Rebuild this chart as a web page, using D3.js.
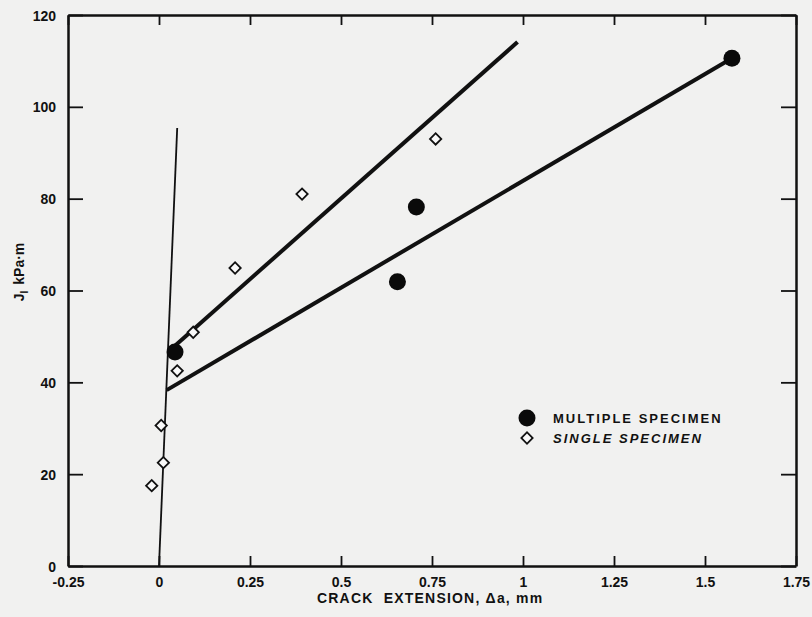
<!DOCTYPE html>
<html>
<head>
<meta charset="utf-8">
<script src="https://cdn.jsdelivr.net/npm/d3@7"></script>
<style>
  body { margin: 0; background: #f1f1f0; }
  svg { display: block; }
  svg text { font-family: "Liberation Sans", Arial, sans-serif; font-weight: bold; }
</style>
</head>
<body>
<svg id="chart"></svg>
<script>
// crack extension (mm) and J (kPa·m)
const multipleX = [0.044, 0.707, 0.655, 1.574];
const multipleY = [46.6, 78.2, 61.9, 110.6];

const singleX = [-0.020, 0.012, 0.006, 0.050, 0.094, 0.209, 0.393, 0.760];
const singleY = [17.5, 22.5, 30.6, 42.5, 50.9, 64.9, 81.0, 93.0];

// straight lines drawn on the plot, as [x, y] end points
const bluntingLine = [[0.0, 0], [0.05, 95.4]];
const singleFit = [[0.030, 47.0], [0.985, 114.1]];
const multipleFit = [[0.021, 38.3], [1.574, 110.6]];

const xTicks = [-0.25, 0, 0.25, 0.5, 0.75, 1, 1.25, 1.5, 1.75];
const xTickLabels = ["-0.25", "0", "0.25", "0.5", "0.75", "1", "1.25", "1.5", "1.75"];
const yTicks = [0, 20, 40, 60, 80, 100, 120];

const width = 812, height = 617;
const margin = {top: 15, right: 16, bottom: 51, left: 68};

const svg = d3.select("#chart").attr("width", width).attr("height", height);

const x = d3.scaleLinear().domain([-0.25, 1.75]).range([margin.left, width - margin.right]);
const y = d3.scaleLinear().domain([0, 120]).range([height - margin.bottom, margin.top]);

// axes, ticks pointing inward on all four sides
svg.append("g")
    .attr("transform", `translate(0,${y(0)})`)
    .call(d3.axisBottom(x).tickValues(xTicks).tickSize(-10).tickSizeOuter(0).tickPadding(11)
        .tickFormat((d, i) => xTickLabels[i]));
svg.append("g")
    .attr("transform", `translate(0,${y(120)})`)
    .call(d3.axisTop(x).tickValues(xTicks).tickSize(-10).tickSizeOuter(0).tickFormat(""));
const left = svg.append("g")
    .attr("transform", `translate(${x(-0.25)},0)`)
    .call(d3.axisLeft(y).tickValues(yTicks).tickSize(-15).tickSizeOuter(0).tickPadding(12));
svg.append("g")
    .attr("transform", `translate(${x(1.75)},0)`)
    .call(d3.axisRight(y).tickValues(yTicks).tickSize(-15).tickSizeOuter(0).tickFormat(""));

svg.selectAll(".domain").attr("stroke", "#111").attr("stroke-width", 2.5);
svg.selectAll(".tick line").attr("stroke", "#111").attr("stroke-width", 1.8);
svg.selectAll(".tick text").attr("fill", "#111")
    .style("font-size", "14px").style("font-family", "'Liberation Sans', Arial, sans-serif")
    .style("font-weight", "bold");
left.selectAll(".tick text").attr("dy", "0.36em");

// lines
const line = d3.line().x(d => x(d[0])).y(d => y(d[1]));
svg.append("path").datum(bluntingLine).attr("d", line)
    .attr("fill", "none").attr("stroke", "#111").attr("stroke-width", 1.8);
svg.append("path").datum(singleFit).attr("d", line)
    .attr("fill", "none").attr("stroke", "#111").attr("stroke-width", 4);
svg.append("path").datum(multipleFit).attr("d", line)
    .attr("fill", "none").attr("stroke", "#111").attr("stroke-width", 4);

// markers
const diamond = d3.symbol().type(d3.symbolSquare).size(64);
svg.append("g").selectAll("path")
    .data(singleX.map((v, i) => [v, singleY[i]]))
    .join("path")
    .attr("d", diamond)
    .attr("transform", d => `translate(${x(d[0])},${y(d[1])}) rotate(45)`)
    .attr("fill", "#fafafa").attr("stroke", "#111").attr("stroke-width", 1.8);

svg.append("g").selectAll("circle")
    .data(multipleX.map((v, i) => [v, multipleY[i]]))
    .join("circle")
    .attr("cx", d => x(d[0])).attr("cy", d => y(d[1]))
    .attr("r", 8.5).attr("fill", "#0a0a0a");

// legend
const legend = svg.append("g").attr("transform", "translate(527,418)");
legend.append("circle").attr("r", 8.5).attr("fill", "#0a0a0a");
legend.append("path").attr("d", diamond).attr("transform", "translate(0,20) rotate(45)")
    .attr("fill", "#fafafa").attr("stroke", "#111").attr("stroke-width", 1.8);
legend.append("text").attr("x", 26).attr("y", 5)
    .style("font-size", "13px").style("letter-spacing", "2px").attr("fill", "#111")
    .text("MULTIPLE SPECIMEN");
legend.append("text").attr("x", 26).attr("y", 25)
    .style("font-size", "13px").style("letter-spacing", "2px").style("font-style", "italic")
    .attr("fill", "#111")
    .text("SINGLE SPECIMEN");

// axis titles
svg.append("text").attr("x", 317).attr("y", 603)
    .style("font-size", "14px").style("letter-spacing", "1.2px").attr("fill", "#111")
    .attr("xml:space", "preserve")
    .text("CRACK  EXTENSION, \u0394a, mm");

const yTitle = svg.append("text")
    .attr("transform", "translate(24,272) rotate(-90)")
    .attr("text-anchor", "middle")
    .style("font-size", "14px").attr("fill", "#111");
yTitle.append("tspan").text("J");
yTitle.append("tspan").attr("dy", 4).style("font-size", "10px").text("I");
yTitle.append("tspan").attr("dy", -4).attr("dx", 6).text("kPa\u00b7m");
</script>
</body>
</html>
